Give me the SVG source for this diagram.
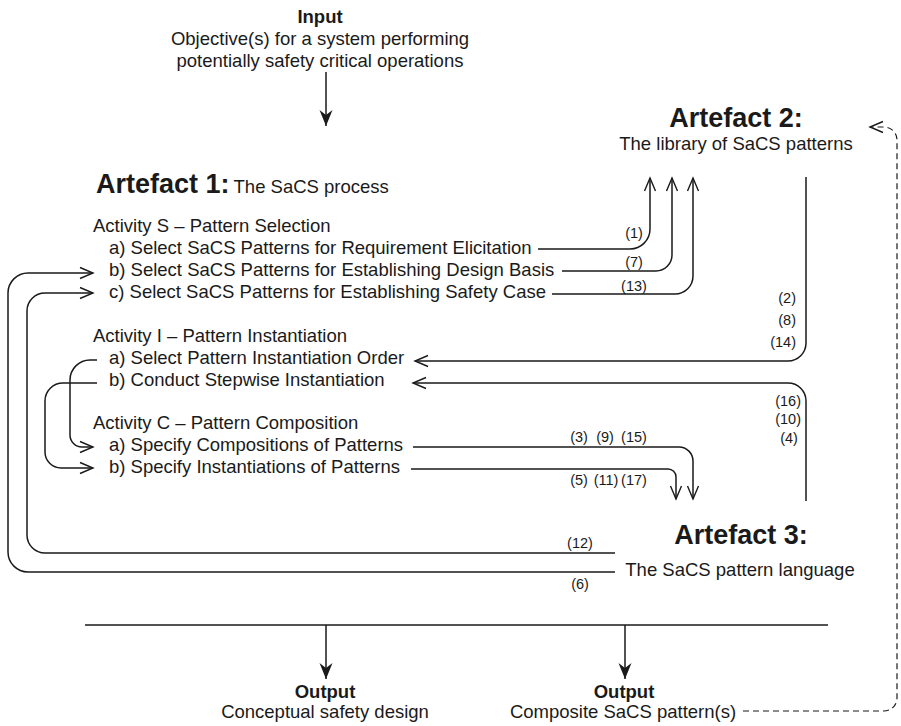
<svg xmlns="http://www.w3.org/2000/svg" width="901" height="726" viewBox="0 0 901 726">
  <style>
    text { font-family: "Liberation Sans", Arial, sans-serif; fill: #1a1a1a; }
    .t { font-size: 18.5px; }
    .b { font-size: 18.5px; font-weight: bold; }
    .big { font-size: 27px; font-weight: bold; }
    .n { font-size: 14.5px; }
    .c { text-anchor: middle; }
    .e { text-anchor: end; }
    .ln { fill: none; stroke: #1a1a1a; stroke-width: 1.5; }
    .arr { marker-end: url(#open); }
    .dash { stroke-dasharray: 6 4; stroke-width: 1.2; }
  </style>
  <defs>
    <marker id="open" viewBox="-14 -8 16 16" markerWidth="16" markerHeight="16" refX="0" refY="0" orient="auto" markerUnits="userSpaceOnUse">
      <path d="M -13 -5.5 L 0 0 L -13 5.5" fill="none" stroke="#1a1a1a" stroke-width="1.4"/>
    </marker>
    <marker id="solid" viewBox="-18 -8 20 16" markerWidth="20" markerHeight="16" refX="0" refY="0" orient="auto" markerUnits="userSpaceOnUse">
      <path d="M 0 0 L -16 -6.5 L -11 0 L -16 6.5 Z" fill="#1a1a1a"/>
    </marker>
  </defs>

  <rect width="901" height="726" fill="#ffffff"/>

  <!-- Input -->
  <g id="input">
    <text class="b c" x="320" y="23">Input</text>
    <text class="t c" x="320" y="45">Objective(s) for a system performing</text>
    <text class="t c" x="320" y="67">potentially safety critical operations</text>
  </g>

  <!-- Artefact 1: the process with its activities -->
  <g id="artefact1">
    <text x="96" y="193"><tspan class="big">Artefact 1:</tspan><tspan class="t" dx="4">The SaCS process</tspan></text>
    <g id="activity-s">
      <text class="t" x="93" y="232">Activity S – Pattern Selection</text>
      <text class="t" x="109" y="254">a) Select SaCS Patterns for Requirement Elicitation</text>
      <text class="t" x="109" y="276">b) Select SaCS Patterns for Establishing Design Basis</text>
      <text class="t" x="109" y="298">c) Select SaCS Patterns for Establishing Safety Case</text>
    </g>
    <g id="activity-i">
      <text class="t" x="93" y="342">Activity I – Pattern Instantiation</text>
      <text class="t" x="109" y="364">a) Select Pattern Instantiation Order</text>
      <text class="t" x="109" y="386">b) Conduct Stepwise Instantiation</text>
    </g>
    <g id="activity-c">
      <text class="t" x="93" y="429">Activity C – Pattern Composition</text>
      <text class="t" x="109" y="451">a) Specify Compositions of Patterns</text>
      <text class="t" x="109" y="473">b) Specify Instantiations of Patterns</text>
    </g>
  </g>

  <!-- Artefact 2 -->
  <g id="artefact2">
    <text class="big c" x="736" y="127">Artefact 2:</text>
    <text class="t c" x="736" y="150">The library of SaCS patterns</text>
  </g>

  <!-- Artefact 3 -->
  <g id="artefact3">
    <text class="big c" x="741" y="544">Artefact 3:</text>
    <text class="t c" x="740" y="576">The SaCS pattern language</text>
  </g>

  <!-- Outputs -->
  <g id="output1">
    <text class="b c" x="325" y="698">Output</text>
    <text class="t c" x="325" y="718">Conceptual safety design</text>
  </g>
  <g id="output2">
    <text class="b c" x="624" y="698">Output</text>
    <text class="t c" x="623" y="718">Composite SaCS pattern(s)</text>
  </g>

  <!-- Connectors -->
  <g id="connectors">
    <path class="ln" d="M326 72 V126" marker-end="url(#solid)"/>

    <!-- selection steps to the library -->
    <path class="ln arr" d="M538 249 H630 A20 20 0 0 0 650 229 V178"/>
    <path class="ln arr" d="M562 271 H656 A16 16 0 0 0 672 255 V178"/>
    <path class="ln arr" d="M552 294 H675 A18 18 0 0 0 693 276 V178"/>

    <!-- library back to instantiation order -->
    <path class="ln arr" d="M806 177 V343 A18 18 0 0 1 788 361 H415"/>
    <!-- pattern language to stepwise instantiation -->
    <path class="ln arr" d="M806 501 V401 A18 18 0 0 0 788 383 H413"/>

    <!-- composition steps to the pattern language -->
    <path class="ln arr" d="M413 447 H679 A14 14 0 0 1 693 461 V499"/>
    <path class="ln arr" d="M411 469 H668 A8 8 0 0 1 676 477 V499"/>

    <!-- pattern language back to selection -->
    <path class="ln arr" d="M615 572 H28 A20 20 0 0 1 8 552 V293 A20 20 0 0 1 28 273 H93"/>
    <path class="ln arr" d="M615 553 H45 A18 18 0 0 1 27 535 V311 A18 18 0 0 1 45 293 H93"/>

    <!-- instantiation hooks into composition -->
    <path class="ln arr" d="M97 360 H90 A20 20 0 0 0 70 380 V435 A12 12 0 0 0 82 447 H93"/>
    <path class="ln arr" d="M97 383 H63 A18 18 0 0 0 45 401 V452 A16 16 0 0 0 61 468 H93"/>

    <!-- output bar -->
    <path class="ln" d="M85 625 H828"/>
    <path class="ln" d="M326 625 V679" marker-end="url(#solid)"/>
    <path class="ln" d="M625 625 V679" marker-end="url(#solid)"/>

    <!-- composite patterns fed back to the library -->
    <path class="ln dash arr" d="M743 711 H884 A13 13 0 0 0 897 698 V140 A13 13 0 0 0 884 127 H870"/>

    <!-- step numbers -->
    <text class="n c" x="634" y="238">(1)</text>
    <text class="n c" x="634" y="267">(7)</text>
    <text class="n c" x="634" y="291">(13)</text>
    <text class="n e" x="796" y="303">(2)</text>
    <text class="n e" x="796" y="325">(8)</text>
    <text class="n e" x="796" y="347">(14)</text>
    <text class="n e" x="801" y="406">(16)</text>
    <text class="n e" x="801" y="424">(10)</text>
    <text class="n c" x="789" y="443">(4)</text>
    <text class="n c" x="579" y="442">(3)</text>
    <text class="n c" x="605" y="442">(9)</text>
    <text class="n c" x="634" y="442">(15)</text>
    <text class="n c" x="579" y="485">(5)</text>
    <text class="n c" x="606" y="485">(11)</text>
    <text class="n c" x="634" y="485">(17)</text>
    <text class="n c" x="580" y="548">(12)</text>
    <text class="n c" x="580" y="589">(6)</text>
  </g>
</svg>
